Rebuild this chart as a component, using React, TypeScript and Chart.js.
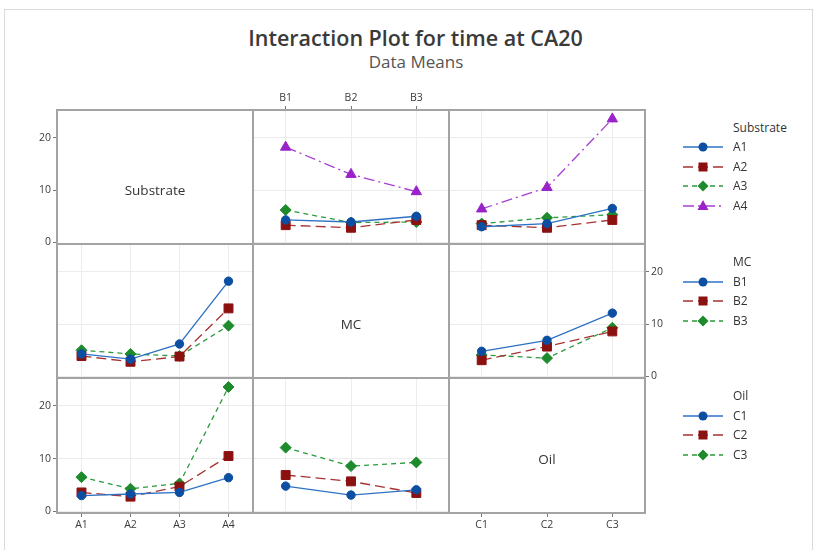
import React, { useEffect, useRef } from 'react';
import { Chart, registerables } from 'chart.js';

Chart.register(...registerables);

// ---------- data ----------
const substrateLevels = ['A1', 'A2', 'A3', 'A4'];
const mcLevels = ['B1', 'B2', 'B3'];
const oilLevels = ['C1', 'C2', 'C3'];
const yTickValues = [0, 10, 20];

// Substrate x MC means (each array: B1, B2, B3)
const meanA1byMC = [4.3, 3.9, 5.0];
const meanA2byMC = [3.3, 2.8, 4.3];
const meanA3byMC = [6.2, 3.8, 3.9];
const meanA4byMC = [18.2, 13.0, 9.7];

// Substrate x Oil means (each array: C1, C2, C3)
const meanA1byOil = [3.0, 3.6, 6.5];
const meanA2byOil = [3.3, 2.8, 4.3];
const meanA3byOil = [3.6, 4.7, 5.3];
const meanA4byOil = [6.4, 10.5, 23.6];

// MC x Oil means (each array: C1, C2, C3)
const meanB1byOil = [4.8, 6.9, 12.1];
const meanB2byOil = [3.1, 5.7, 8.6];
const meanB3byOil = [4.1, 3.5, 9.3];

const substrateByMC = [meanA1byMC, meanA2byMC, meanA3byMC, meanA4byMC];
const substrateByOil = [meanA1byOil, meanA2byOil, meanA3byOil, meanA4byOil];
const mcByOil = [meanB1byOil, meanB2byOil, meanB3byOil];
const col = (table: number[][], k: number) => table.map((r) => r[k]);

// ---------- layout / style ----------
const FONT = '"Open Sans", "Noto Sans", sans-serif';
const COLS = [57, 253, 449, 645];
const ROWS = [110, 244, 378, 513];
const M = 40;
const Y_MIN = -0.3;
const Y_MAX = 25.3;

const STYLES = [
  { color: '#2d72c4', marker: '#0b4ea2', dash: [] as number[], point: 'circle', r: 4.2 },
  { color: '#a83232', marker: '#8b1111', dash: [10, 5], point: 'rect', r: 6.3 },
  { color: '#2a9a3a', marker: '#1d8a2c', dash: [5, 4], point: 'rectRot', r: 5.5 },
  { color: '#a63fd0', marker: '#9a22c8', dash: [11, 4, 2, 4], point: 'triangle', r: 6 },
];

type Series = { name: string; data: number[] };
type Panel = {
  c: number;
  r: number;
  labels: string[];
  xPos: 'top' | 'bottom' | null;
  yPos: 'left' | 'right' | null;
  series: Series[];
  grid: boolean;
  title?: string;
};

const PANELS: Panel[] = [
  { c: 0, r: 0, labels: substrateLevels, xPos: null, yPos: 'left', series: [], grid: false, title: 'Substrate' },
  {
    c: 1, r: 0, labels: mcLevels, xPos: 'top', yPos: null, grid: true,
    series: substrateLevels.map((n, i) => ({ name: n, data: substrateByMC[i] })),
  },
  {
    c: 2, r: 0, labels: oilLevels, xPos: null, yPos: null, grid: true,
    series: substrateLevels.map((n, i) => ({ name: n, data: substrateByOil[i] })),
  },
  {
    c: 0, r: 1, labels: substrateLevels, xPos: null, yPos: null, grid: true,
    series: mcLevels.map((n, k) => ({ name: n, data: col(substrateByMC, k) })),
  },
  { c: 1, r: 1, labels: mcLevels, xPos: null, yPos: null, series: [], grid: false, title: 'MC' },
  {
    c: 2, r: 1, labels: oilLevels, xPos: null, yPos: 'right', grid: true,
    series: mcLevels.map((n, i) => ({ name: n, data: mcByOil[i] })),
  },
  {
    c: 0, r: 2, labels: substrateLevels, xPos: 'bottom', yPos: 'left', grid: true,
    series: oilLevels.map((n, k) => ({ name: n, data: col(substrateByOil, k) })),
  },
  {
    c: 1, r: 2, labels: mcLevels, xPos: null, yPos: null, grid: true,
    series: oilLevels.map((n, k) => ({ name: n, data: col(mcByOil, k) })),
  },
  { c: 2, r: 2, labels: oilLevels, xPos: 'bottom', yPos: null, series: [], grid: false, title: 'Oil' },
];

const framePlugin = {
  id: 'panelFrame',
  beforeDatasetsDraw(chart: any) {
    const { ctx, chartArea: a } = chart;
    ctx.save();
    ctx.strokeStyle = '#a3a3a3';
    ctx.lineWidth = 2;
    ctx.strokeRect(a.left, a.top, a.right - a.left, a.bottom - a.top);
    ctx.restore();
  },
};

function makeConfig(p: Panel): any {
  const gridColor = p.grid ? '#ececec' : 'rgba(0,0,0,0)';
  const tickFont = { family: FONT, size: 10.5 };
  return {
    type: 'line',
    data: {
      labels: p.labels,
      datasets: p.series.map((s, i) => ({
        label: s.name,
        data: s.data,
        borderColor: STYLES[i].color,
        borderWidth: 1.3,
        borderDash: STYLES[i].dash,
        pointStyle: STYLES[i].point,
        pointRadius: STYLES[i].r,
        pointBackgroundColor: STYLES[i].marker,
        pointBorderColor: STYLES[i].marker,
        pointBorderWidth: 1,
        tension: 0,
        fill: false,
      })),
    },
    options: {
      animation: false,
      responsive: false,
      maintainAspectRatio: false,
      layout: {
        padding: {
          left: p.yPos === 'right' ? M : 0,
          right: p.yPos === 'right' ? 0 : M,
          top: p.xPos === 'top' ? 0 : M,
          bottom: p.xPos === 'top' ? M : 0,
        },
      },
      plugins: { legend: { display: false }, tooltip: { enabled: false }, title: { display: false } },
      scales: {
        x: {
          type: 'category',
          position: p.xPos ?? 'bottom',
          offset: true,
          grid: {
            offset: false,
            color: gridColor,
            lineWidth: 1,
            drawTicks: !!p.xPos,
            tickLength: 4,
            tickColor: '#777',
          },
          border: { display: false },
          ticks: {
            display: !!p.xPos,
            color: '#3a3a3a',
            font: tickFont,
            padding: 2,
            maxRotation: 0,
            autoSkip: false,
          },
          afterFit: (s: any) => {
            s.height = M;
          },
        },
        y: {
          type: 'linear',
          position: p.yPos ?? 'left',
          min: Y_MIN,
          max: Y_MAX,
          afterBuildTicks: (s: any) => {
            s.ticks = yTickValues.map((v) => ({ value: v }));
          },
          grid: {
            color: gridColor,
            lineWidth: 1,
            drawTicks: !!p.yPos,
            tickLength: 4,
            tickColor: '#777',
          },
          border: { display: false },
          ticks: {
            display: !!p.yPos,
            color: '#3a3a3a',
            font: tickFont,
            padding: 2,
          },
          afterFit: (s: any) => {
            s.width = M;
          },
        },
      },
    },
    plugins: [framePlugin],
  };
}

function PanelChart({ p }: { p: Panel }) {
  const ref = useRef<HTMLCanvasElement | null>(null);
  const w = COLS[p.c + 1] - COLS[p.c];
  const h = ROWS[p.r + 1] - ROWS[p.r];
  useEffect(() => {
    if (!ref.current) return;
    const chart = new Chart(ref.current, makeConfig(p));
    return () => chart.destroy();
  }, [p]);
  return (
    <>
      <canvas
        ref={ref}
        width={w + 2 * M}
        height={h + 2 * M}
        style={{ position: 'absolute', left: COLS[p.c] - M, top: ROWS[p.r] - M, width: w + 2 * M, height: h + 2 * M }}
      />
      {p.title && (
        <div
          style={{
            position: 'absolute',
            left: COLS[p.c],
            top: ROWS[p.r] + h / 2 + 13 - 9,
            width: w,
            lineHeight: '18px',
            textAlign: 'center',
            fontFamily: FONT,
            fontSize: 13.5,
            color: '#333',
          }}
        >
          {p.title}
        </div>
      )}
    </>
  );
}

function Symbol({ i }: { i: number }) {
  const s = STYLES[i];
  const cx = 20;
  const cy = 7;
  let marker: React.ReactNode = null;
  if (s.point === 'circle') marker = <circle cx={cx} cy={cy} r={4.5} fill={s.marker} />;
  else if (s.point === 'rect') marker = <rect x={cx - 4.5} y={cy - 4.5} width={9} height={9} fill={s.marker} />;
  else if (s.point === 'rectRot')
    marker = <polygon points={`${cx},${cy - 5.5} ${cx + 5.5},${cy} ${cx},${cy + 5.5} ${cx - 5.5},${cy}`} fill={s.marker} />;
  else marker = <polygon points={`${cx},${cy - 6} ${cx + 5.5},${cy + 4} ${cx - 5.5},${cy + 4}`} fill={s.marker} />;
  return (
    <svg width={41} height={14} style={{ display: 'block' }}>
      <line x1={0} y1={cy} x2={40} y2={cy} stroke={s.color} strokeWidth={1.5} strokeDasharray={s.dash.length ? s.dash.join(' ') : undefined} />
      {marker}
    </svg>
  );
}

function LegendBlock({ titleY, title, names }: { titleY: number; title: string; names: string[] }) {
  const textStyle: React.CSSProperties = {
    position: 'absolute',
    left: 733,
    fontFamily: FONT,
    fontSize: 12,
    lineHeight: '16px',
    color: '#333',
    whiteSpace: 'nowrap',
  };
  return (
    <>
      <div style={{ ...textStyle, top: titleY - 8 }}>{title}</div>
      {names.map((n, i) => {
        const cy = titleY + 19.6 * (i + 1);
        return (
          <React.Fragment key={n}>
            <div style={{ position: 'absolute', left: 683, top: cy - 7 }}>
              <Symbol i={i} />
            </div>
            <div style={{ ...textStyle, top: cy - 8 }}>{n}</div>
          </React.Fragment>
        );
      })}
    </>
  );
}

export default function App() {
  return (
    <div style={{ position: 'absolute', left: 0, top: 0, width: 814, height: 550, background: '#fff', overflow: 'hidden' }}>
      <div
        style={{
          position: 'absolute',
          left: 4,
          top: 9,
          width: 807,
          height: 560,
          border: '1px solid #d9d9d9',
        }}
      />
      <div
        style={{
          position: 'absolute',
          left: 0,
          width: 831,
          top: 24,
          lineHeight: '28px',
          textAlign: 'center',
          fontFamily: FONT,
          fontSize: 21.5,
          fontWeight: 600,
          color: '#3a3a3a',
        }}
      >
        Interaction Plot for time at CA20
      </div>
      <div
        style={{
          position: 'absolute',
          left: 0,
          width: 832,
          top: 51,
          lineHeight: '22px',
          textAlign: 'center',
          fontFamily: FONT,
          fontSize: 17,
          color: '#555',
        }}
      >
        Data Means
      </div>
      {PANELS.map((p, i) => (
        <PanelChart key={i} p={p} />
      ))}
      <LegendBlock titleY={127.5} title="Substrate" names={substrateLevels} />
      <LegendBlock titleY={262} title="MC" names={mcLevels} />
      <LegendBlock titleY={396} title="Oil" names={oilLevels} />
    </div>
  );
}
